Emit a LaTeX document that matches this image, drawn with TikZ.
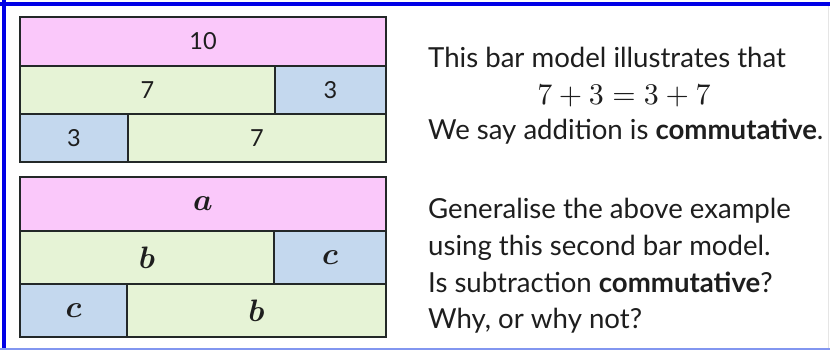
\documentclass[tikz,border=0pt]{standalone}
\usepackage{amsmath}
\usepackage{fontspec}
\setmainfont{Lato}
\definecolor{pinkc}{RGB}{250,200,250}
\definecolor{greenc}{RGB}{230,243,214}
\definecolor{bluec}{RGB}{196,216,238}
\definecolor{edgec}{RGB}{35,40,40}
\definecolor{frameblue}{RGB}{0,0,230}
\definecolor{lightframe}{RGB}{130,150,240}
\definecolor{textc}{RGB}{30,30,30}
\tikzset{
  cell/.style={draw=edgec, line width=2pt, inner sep=0pt, outer sep=0pt, anchor=north west},
  numtxt/.style={font=\fontsize{23.5}{28}\selectfont, text=textc},
  vartxt/.style={transform shape, scale=3.1, text=textc, inner sep=0pt},
  body/.style={anchor=base west, inner sep=0pt, font=\fontsize{27.6}{32}\selectfont, text=textc},
}
\begin{document}
\begin{tikzpicture}[x=1pt,y=-1pt]
\useasboundingbox (0,0) rectangle (830,350);
\fill[white] (0,0) rectangle (830,350);
% frame
\draw[frameblue, line width=4pt] (0,4) -- (830,4);
\draw[frameblue, line width=4pt] (4,0) -- (4,350);
\draw[lightframe, line width=2pt] (0,349) -- (830,349);
\draw[black!10, line width=1pt] (828,6) -- (828,348);
% first bar model
\node[cell, fill=pinkc, minimum width=366pt, minimum height=49pt] (t10) at (20,17) {};
\node[numtxt] at (t10.center) {10};
\node[cell, fill=greenc, minimum width=255pt, minimum height=48pt] (t7a) at (20,66) {};
\node[numtxt] at (t7a.center) {7};
\node[cell, fill=bluec, minimum width=111pt, minimum height=48pt] (t3a) at (275,66) {};
\node[numtxt] at (t3a.center) {3};
\node[cell, fill=bluec, minimum width=108pt, minimum height=48pt] (t3b) at (20,114) {};
\node[numtxt] at (t3b.center) {3};
\node[cell, fill=greenc, minimum width=258pt, minimum height=48pt] (t7b) at (128,114) {};
\node[numtxt] at (t7b.center) {7};
% second bar model
\node[cell, fill=pinkc, minimum width=366pt, minimum height=54pt] (ba) at (20,177) {};
\node[vartxt] at (ba.center) {$\boldsymbol{a}$};
\node[cell, fill=greenc, minimum width=254pt, minimum height=53pt] (bb1) at (20,231) {};
\node[vartxt] at (bb1.center) {$\boldsymbol{b}$};
\node[cell, fill=bluec, minimum width=112pt, minimum height=53pt] (bc1) at (274,231) {};
\node[vartxt] at (bc1.center) {$\boldsymbol{c}$};
\node[cell, fill=bluec, minimum width=107pt, minimum height=53pt] (bc2) at (20,284) {};
\node[vartxt] at (bc2.center) {$\boldsymbol{c}$};
\node[cell, fill=greenc, minimum width=259pt, minimum height=53pt] (bb2) at (127,284) {};
\node[vartxt] at (bb2.center) {$\boldsymbol{b}$};
% text
\node[body] (l1) at (428,68) {This bar model illustrates that};
\node[anchor=base, inner sep=0pt, transform shape, scale=3, text=textc] (eq) at (624,105) {$7+3=3+7$};
\node[body] (l3) at (428,140) {We say addition is \textbf{commutative}.};
\node[body] (g1) at (428,218) {Generalise the above example};
\node[body] (g2) at (428,255) {using this second bar model.};
\node[body] (g3) at (428,292) {Is subtraction \textbf{commutative}?};
\node[body] (g4) at (428,328) {Why, or why not?};
\end{tikzpicture}
\end{document}
